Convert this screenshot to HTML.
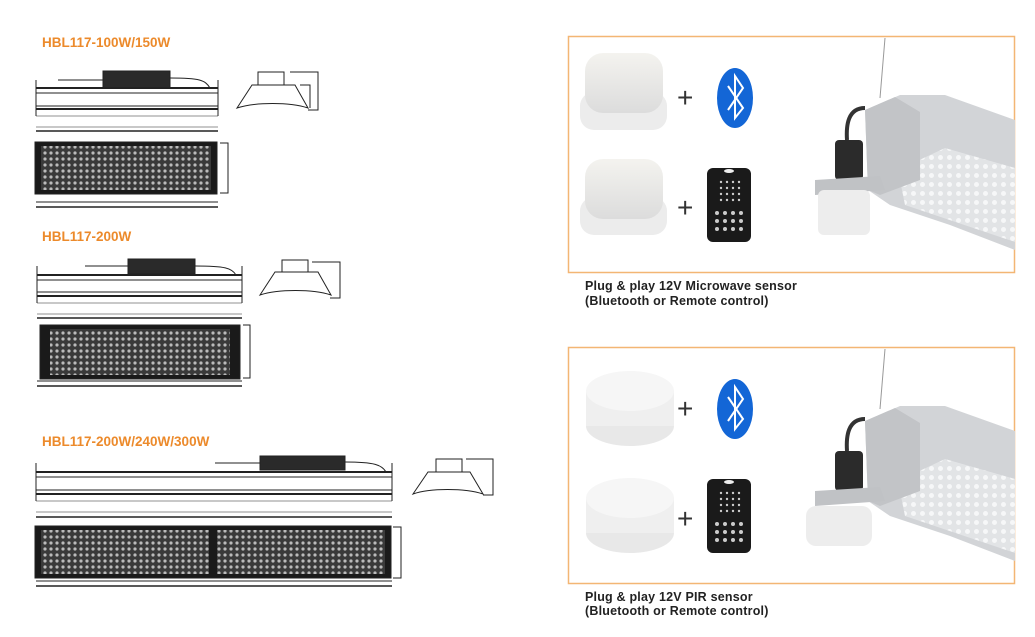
<!DOCTYPE html>
<html><head><meta charset="utf-8"><style>
body{margin:0;width:1035px;height:632px;background:#fff;overflow:hidden;font-family:"Liberation Sans",sans-serif}
</style></head><body>
<svg width="1035" height="632" viewBox="0 0 1035 632" xmlns="http://www.w3.org/2000/svg">
<defs>
<pattern id="led" width="6" height="6" patternUnits="userSpaceOnUse">
<rect width="6" height="6" fill="#3a3a3a"/><circle cx="3" cy="3" r="1.6" fill="#bbb"/>
</pattern>
<pattern id="dots" width="9" height="9" patternUnits="userSpaceOnUse">
<rect width="9" height="9" fill="#e2e4e6"/><circle cx="4.5" cy="4.5" r="2.5" fill="#f6f7f8"/>
</pattern>
<linearGradient id="cap" x1="0" y1="0" x2="0" y2="1"><stop offset="0" stop-color="#f4f3ef"/><stop offset="1" stop-color="#dcdcdc"/></linearGradient>
<g id="remote">
<rect x="0" y="0" width="44" height="74" rx="6" fill="#1a1a1a"/>
<g fill="#ccc">
<circle cx="14" cy="14" r="1.2"/><circle cx="20" cy="14" r="1.2"/><circle cx="26" cy="14" r="1.2"/><circle cx="32" cy="14" r="1.2"/>
<circle cx="14" cy="20" r="1.2"/><circle cx="20" cy="20" r="1.2"/><circle cx="26" cy="20" r="1.2"/><circle cx="32" cy="20" r="1.2"/>
<circle cx="14" cy="26" r="1.2"/><circle cx="20" cy="26" r="1.2"/><circle cx="26" cy="26" r="1.2"/><circle cx="32" cy="26" r="1.2"/>
<circle cx="14" cy="32" r="1.2"/><circle cx="20" cy="32" r="1.2"/><circle cx="26" cy="32" r="1.2"/><circle cx="32" cy="32" r="1.2"/>
<circle cx="10" cy="45" r="2"/><circle cx="18" cy="45" r="2"/><circle cx="26" cy="45" r="2"/><circle cx="34" cy="45" r="2"/>
<circle cx="10" cy="53" r="2"/><circle cx="18" cy="53" r="2"/><circle cx="26" cy="53" r="2"/><circle cx="34" cy="53" r="2"/>
<circle cx="10" cy="61" r="2"/><circle cx="18" cy="61" r="2"/><circle cx="26" cy="61" r="2"/><circle cx="34" cy="61" r="2"/>
</g><ellipse cx="22" cy="3" rx="5" ry="2" fill="#eee"/>
</g>
<g id="bt">
<ellipse cx="735" cy="98" rx="18" ry="30" fill="#1366d6"/>
<path d="M728 86 L743 108 L735 118 L735 76 L743 88 L728 110" fill="none" stroke="#fff" stroke-width="2"/>
</g>
<g id="fixture">
<line x1="885" y1="38" x2="880" y2="98" stroke="#999" stroke-width="1"/>
<polygon points="865,110 900,95 945,95 1015,120 1015,250 950,225 890,205 868,190" fill="#d2d4d7"/>
<polygon points="898,170 945,148 1015,168 1015,242 905,205" fill="url(#dots)"/>
<polygon points="865,110 895,97 920,112 920,180 880,195 868,190" fill="#c2c4c7"/>
<path d="M865 108 C848 108 846 125 847 140" stroke="#333" stroke-width="4" fill="none"/>
<rect x="835" y="140" width="28" height="40" rx="4" fill="#2b2b2b"/>
<polygon points="815,180 880,176 885,190 815,195" fill="#c0c2c5"/>
</g>
</defs>

<g font-size="13.5" font-weight="bold" fill="#ec8a2b">
<text x="42" y="47">HBL117-100W/150W</text>
<text x="42" y="241">HBL117-200W</text>
<text x="42" y="446">HBL117-200W/240W/300W</text>
</g>

<g stroke="#222" fill="none" stroke-width="1">
<rect x="103" y="71" width="67" height="17" fill="#2a2a2a"/>
<path d="M58 80 H103 M170 78 C200 78 205 80 210 88"/>
<line x1="36" y1="88" x2="218" y2="88" stroke-width="2"/>
<line x1="36" y1="93" x2="218" y2="93"/><line x1="36" y1="106" x2="218" y2="106"/><line x1="36" y1="109" x2="218" y2="109" stroke-width="2"/>
<line x1="36" y1="80" x2="36" y2="116"/><line x1="218" y1="80" x2="218" y2="116"/>
<line x1="36" y1="116" x2="218" y2="116" stroke-width="0.6"/>
<line x1="36" y1="127" x2="218" y2="127" stroke-width="0.6"/>
<line x1="36" y1="131" x2="218" y2="131" stroke-width="1.5"/>
<rect x="35" y="142" width="182" height="52" fill="#1a1a1a"/>
<rect x="41" y="146" width="170" height="44" fill="url(#led)" stroke="none"/>
<line x1="36" y1="202" x2="218" y2="202"/><line x1="36" y1="207" x2="218" y2="207" stroke-width="1.5"/>
<path d="M220 143 H228 V193 H220"/>
<path d="M237 108 L252 85 L295 85 L308 108 C290 102 255 102 237 108 Z"/>
<rect x="258" y="72" width="26" height="13"/>
<path d="M290 72 H318 V110 H308 M300 85 H310 V108"/>
</g>
<g stroke="#222" fill="none" stroke-width="1">
<rect x="128" y="259" width="67" height="15" fill="#2a2a2a"/>
<path d="M85 266 H128 M195 266 C225 266 232 268 236 275"/>
<line x1="37" y1="275" x2="242" y2="275" stroke-width="2"/>
<line x1="37" y1="280" x2="242" y2="280"/><line x1="37" y1="292" x2="242" y2="292"/><line x1="37" y1="296" x2="242" y2="296" stroke-width="2"/>
<line x1="37" y1="266" x2="37" y2="303"/><line x1="242" y1="266" x2="242" y2="303"/>
<line x1="37" y1="303" x2="242" y2="303" stroke-width="0.6"/>
<line x1="37" y1="314" x2="242" y2="314" stroke-width="0.6"/>
<line x1="37" y1="318" x2="242" y2="318" stroke-width="1.5"/>
<rect x="40" y="325" width="200" height="54" fill="#1a1a1a"/>
<rect x="50" y="329" width="180" height="46" fill="url(#led)" stroke="none"/>
<line x1="37" y1="381" x2="242" y2="381"/><line x1="37" y1="386" x2="242" y2="386" stroke-width="1.5"/>
<path d="M243 325 H250 V378 H243"/>
<path d="M260 295 L275 272 L318 272 L331 295 C313 289 278 289 260 295 Z"/>
<rect x="282" y="260" width="26" height="12"/>
<path d="M312 262 H340 V298 H330"/>
</g>
<g stroke="#222" fill="none" stroke-width="1">
<rect x="260" y="456" width="85" height="14" fill="#2a2a2a"/>
<path d="M215 463 H260 M345 462 C375 462 382 465 386 472"/>
<line x1="36" y1="472" x2="392" y2="472" stroke-width="2"/>
<line x1="36" y1="477" x2="392" y2="477"/><line x1="36" y1="490" x2="392" y2="490"/><line x1="36" y1="494" x2="392" y2="494" stroke-width="2"/>
<line x1="36" y1="463" x2="36" y2="501"/><line x1="392" y1="463" x2="392" y2="501"/>
<line x1="36" y1="501" x2="392" y2="501" stroke-width="0.6"/>
<line x1="36" y1="512" x2="392" y2="512" stroke-width="0.6"/>
<line x1="36" y1="517" x2="392" y2="517" stroke-width="1.5"/>
<rect x="35" y="526" width="356" height="52" fill="#1a1a1a"/>
<rect x="41" y="530" width="168" height="44" fill="url(#led)" stroke="none"/>
<rect x="217" y="530" width="168" height="44" fill="url(#led)" stroke="none"/>
<line x1="36" y1="581" x2="392" y2="581"/><line x1="36" y1="586" x2="392" y2="586" stroke-width="1.5"/>
<path d="M393 527 H401 V578 H393"/>
<path d="M413 494 L428 472 L470 472 L483 494 C465 488 430 488 413 494 Z"/>
<rect x="436" y="459" width="26" height="13"/>
<path d="M466 459 H493 V495 H483"/>
</g>

<rect x="568.5" y="36.5" width="446" height="236" fill="none" stroke="#f3b674" stroke-width="1.5"/>
<g>
<rect x="580" y="92" width="87" height="38" rx="14" fill="#ececec"/>
<rect x="585" y="53" width="78" height="60" rx="18" fill="url(#cap)"/>
<rect x="580" y="197" width="87" height="38" rx="14" fill="#ececec"/>
<rect x="585" y="159" width="78" height="60" rx="18" fill="url(#cap)"/>
<text x="677" y="107" font-size="28" fill="#333">+</text>
<text x="677" y="217" font-size="28" fill="#333">+</text>
<use href="#bt"/>
<use href="#remote" transform="translate(707,168)"/>
<use href="#fixture"/>
<rect x="818" y="190" width="52" height="45" rx="6" fill="#ededed"/>
</g>
<text x="585" y="290" font-size="12.5" font-weight="bold" fill="#222" letter-spacing="0.2">Plug &amp; play 12V Microwave sensor</text>
<text x="585" y="305" font-size="12.5" font-weight="bold" fill="#222" letter-spacing="0.2">(Bluetooth or Remote control)</text>

<rect x="568.5" y="347.5" width="446" height="236" fill="none" stroke="#f3b674" stroke-width="1.5"/>
<g transform="translate(0,311)">
<ellipse cx="630" cy="115" rx="44" ry="20" fill="#e8e8e8"/>
<rect x="586" y="80" width="88" height="35" fill="#efefef"/>
<ellipse cx="630" cy="80" rx="44" ry="20" fill="#f6f6f6"/>
<ellipse cx="630" cy="222" rx="44" ry="20" fill="#e8e8e8"/>
<rect x="586" y="187" width="88" height="35" fill="#efefef"/>
<ellipse cx="630" cy="187" rx="44" ry="20" fill="#f6f6f6"/>
<text x="677" y="107" font-size="28" fill="#333">+</text>
<text x="677" y="217" font-size="28" fill="#333">+</text>
<use href="#bt"/>
<use href="#remote" transform="translate(707,168)"/>
<use href="#fixture"/>
<rect x="806" y="195" width="66" height="40" rx="10" fill="#ededed"/>
</g>
<text x="585" y="601" font-size="12.5" font-weight="bold" fill="#222" letter-spacing="0.2">Plug &amp; play 12V PIR sensor</text>
<text x="585" y="615" font-size="12.5" font-weight="bold" fill="#222" letter-spacing="0.2">(Bluetooth or Remote control)</text>
</svg>
</body></html>
